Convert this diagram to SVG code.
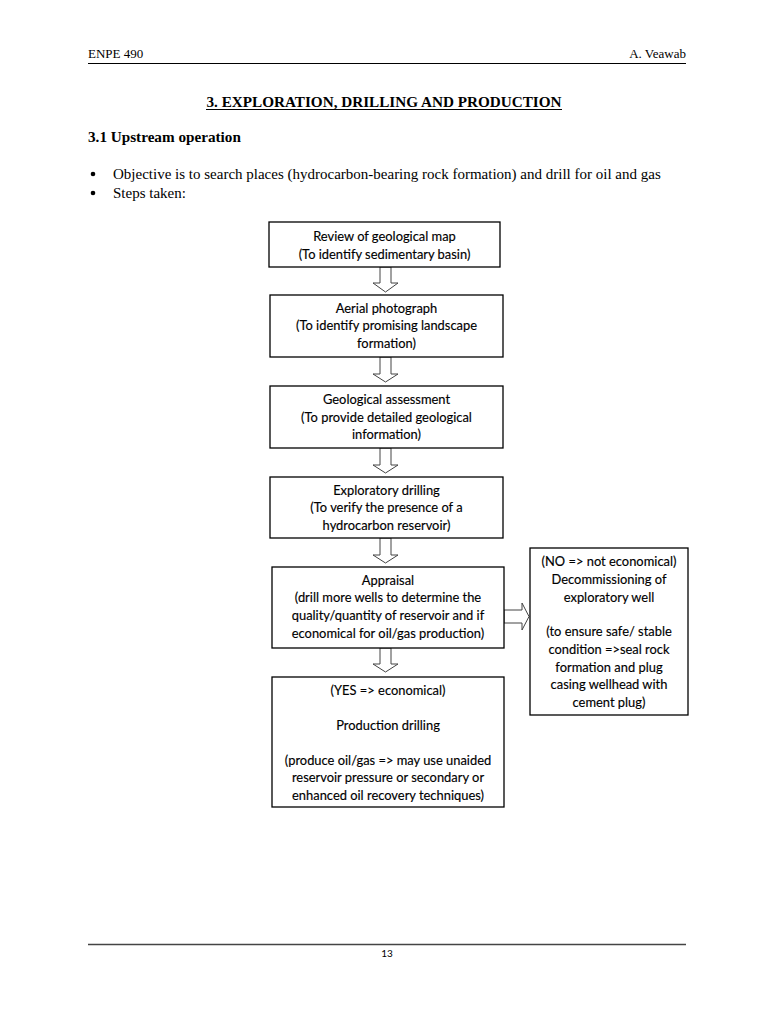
<svg xmlns="http://www.w3.org/2000/svg" width="768" height="1024" viewBox="0 0 768 1024">
<style>
.serif{font-family:"Liberation Serif","Times New Roman",serif;fill:#000}
.bx{fill:#fff;stroke:#000;stroke-width:1.3}
.t{font-family:Lato,"Noto Sans",sans-serif;font-size:12.9px;fill:#000;text-anchor:middle;stroke:#000;stroke-width:0.15}
.arr{fill:#fff;stroke:#444;stroke-width:1}
</style>
<rect width="768" height="1024" fill="#fff"/>
<g id="header">
<text class="serif" x="88" y="58" font-size="13">ENPE 490</text>
<text class="serif" x="686" y="58" font-size="13" text-anchor="end">A. Veawab</text>
<line x1="88" y1="63.5" x2="686" y2="63.5" stroke="#000" stroke-width="1.2"/>
<text class="serif" x="384" y="107" font-size="15.2" font-weight="bold" text-anchor="middle">3. EXPLORATION, DRILLING AND PRODUCTION</text>
<line x1="206" y1="109.5" x2="562" y2="109.5" stroke="#000" stroke-width="1"/>
<text class="serif" x="88" y="142" font-size="15.2" font-weight="bold">3.1 Upstream operation</text>
<circle cx="93" cy="174" r="2.3" fill="#000"/>
<text class="serif" x="113" y="179" font-size="15">Objective is to search places (hydrocarbon-bearing rock formation) and drill for oil and gas</text>
<circle cx="93" cy="193" r="2.3" fill="#000"/>
<text class="serif" x="113" y="198" font-size="15">Steps taken:</text>
</g>
<g id="connectors">
<path class="arr" d="M380,267 L391,267 L391,283 L398,283 L385.5,292 L373,283 L380,283 Z"/>
<path class="arr" d="M380,357 L391,357 L391,374 L398,374 L385.5,382 L373,374 L380,374 Z"/>
<path class="arr" d="M380,448 L391,448 L391,465 L398,465 L385.5,473 L373,465 L380,465 Z"/>
<path class="arr" d="M380,538 L391,538 L391,555 L398,555 L385.5,563 L373,555 L380,555 Z"/>
<path class="arr" d="M380,648 L391,648 L391,664 L398,664 L385.5,672 L373,664 L380,664 Z"/>
<path class="arr" d="M504,610 L522,610 L522,603 L529,616.5 L522,630 L522,623 L504,623 Z"/>
</g>
<g id="n1">
<rect class="bx" x="269" y="222" width="231" height="45"/>
<text class="t" x="384.5" y="240.5">Review of geological map</text>
<text class="t" x="384.5" y="258.5">(To identify sedimentary basin)</text>
</g>
<g id="n2">
<rect class="bx" x="270" y="295" width="233" height="62"/>
<text class="t" x="386.5" y="312.5">Aerial photograph</text>
<text class="t" x="386.5" y="330">(To identify promising landscape</text>
<text class="t" x="386.5" y="347.5">formation)</text>
</g>
<g id="n3">
<rect class="bx" x="270" y="386" width="233" height="62"/>
<text class="t" x="386.5" y="404">Geological assessment</text>
<text class="t" x="386.5" y="421.5">(To provide detailed geological</text>
<text class="t" x="386.5" y="439">information)</text>
</g>
<g id="n4">
<rect class="bx" x="270" y="477" width="233" height="61"/>
<text class="t" x="386.5" y="494.5">Exploratory drilling</text>
<text class="t" x="386.5" y="512">(To verify the presence of a</text>
<text class="t" x="386.5" y="529.5">hydrocarbon reservoir)</text>
</g>
<g id="n5">
<rect class="bx" x="272" y="567" width="232" height="81"/>
<text class="t" x="388" y="584.5">Appraisal</text>
<text class="t" x="388" y="602">(drill more wells to determine the</text>
<text class="t" x="388" y="620">quality/quantity of reservoir and if</text>
<text class="t" x="388" y="638">economical for oil/gas production)</text>
</g>
<g id="n6">
<rect class="bx" x="272" y="677" width="232" height="130"/>
<text class="t" x="388" y="694.5">(YES =&gt; economical)</text>
<text class="t" x="388" y="729.5">Production drilling</text>
<text class="t" x="388" y="764.5">(produce oil/gas =&gt; may use unaided</text>
<text class="t" x="388" y="782">reservoir pressure or secondary or</text>
<text class="t" x="388" y="799.5">enhanced oil recovery techniques)</text>
</g>
<g id="n7">
<rect class="bx" x="530" y="548" width="158" height="167"/>
<text class="t" x="609" y="566">(NO =&gt; not economical)</text>
<text class="t" x="609" y="584">Decommissioning of</text>
<text class="t" x="609" y="602">exploratory well</text>
<text class="t" x="609" y="636">(to ensure safe/ stable</text>
<text class="t" x="609" y="654">condition =&gt;seal rock</text>
<text class="t" x="609" y="671.5">formation and plug</text>
<text class="t" x="609" y="689">casing wellhead with</text>
<text class="t" x="609" y="706.5">cement plug)</text>
</g>
<g id="footer">
<line x1="88" y1="944.5" x2="686" y2="944.5" stroke="#444" stroke-width="1.5"/>
<text x="387" y="957" font-family="Lato,'Noto Sans',sans-serif" font-size="10" text-anchor="middle" fill="#000">13</text>
</g>
</svg>
